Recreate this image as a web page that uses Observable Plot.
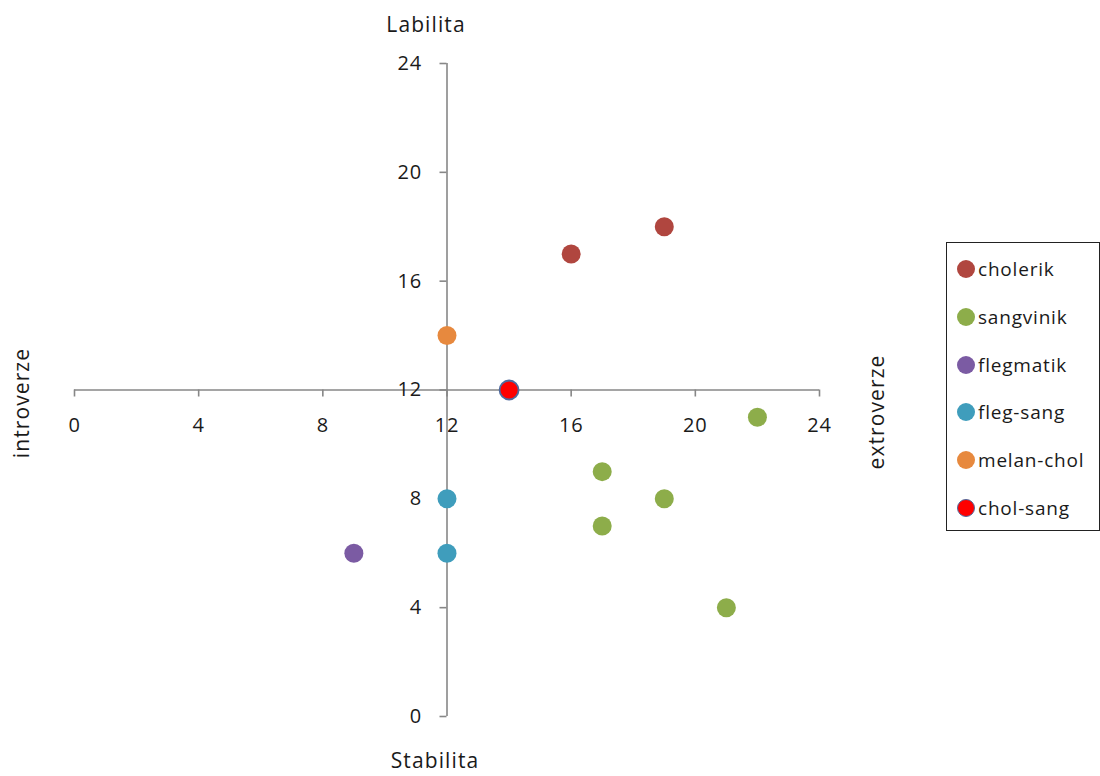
<!DOCTYPE html>
<html>
<head>
<meta charset="utf-8">
<script src="https://cdn.jsdelivr.net/npm/d3@7"></script>
<script src="https://cdn.jsdelivr.net/npm/@observablehq/plot@0.6"></script>
<style>
  body { margin: 0; background: #fff; font-family: "Open Sans", sans-serif; color: #1a1a1a; }
  #wrap { position: relative; width: 1100px; height: 776px; overflow: hidden; }
  #wrap svg { position: absolute; left: 0; top: 0; }
  .title, .vtitle { position: absolute; font-size: 21px; line-height: 1.2; letter-spacing: 1.1px; white-space: nowrap; }
  .title { transform: translate(-50%, -50%); }
  .vtitle { transform: translate(-50%, -50%) rotate(-90deg); }
  #legend { position: absolute; left: 946px; top: 242px; width: 152px; height: 287px; border: 1.3px solid #222; background: #fff; }
  #legend .item { position: absolute; left: 10px; height: 24px; display: flex; align-items: center; font-size: 19px; letter-spacing: 0.8px; transform: translateY(-50%); }
  #legend .sw { width: 18px; height: 18px; border-radius: 50%; margin-right: 3px; box-sizing: border-box; }
</style>
</head>
<body>
<div id="wrap"></div>
<script>
// Temperament groups and their colours
const groups = ["cholerik", "sangvinik", "flegmatik", "fleg-sang", "melan-chol", "chol-sang"];
const fills = ["#B0463F", "#8DAD4A", "#7B5BA3", "#3F9DBC", "#E7893E", "#FF0000"];
const strokes = ["none", "none", "none", "none", "none", "#4F6A9E"];

// Extraversion (x) and lability (y) scores per group
const cholerikX = [16, 19];
const cholerikY = [17, 18];
const sangvinikX = [22, 17, 19, 17, 21];
const sangvinikY = [11, 9, 8, 7, 4];
const flegmatikX = [9];
const flegmatikY = [6];
const flegSangX = [12, 12];
const flegSangY = [8, 6];
const melanCholX = [12];
const melanCholY = [14];
const cholSangX = [14];
const cholSangY = [12];

// Axis ticks
const xTicks = [0, 4, 8, 12, 16, 20, 24];
const yTicks = [0, 4, 8, 12, 16, 20, 24];
const axisCross = 12;

const seriesX = [cholerikX, sangvinikX, flegmatikX, flegSangX, melanCholX, cholSangX];
const seriesY = [cholerikY, sangvinikY, flegmatikY, flegSangY, melanCholY, cholSangY];
const points = groups.flatMap((g, i) =>
  seriesX[i].map((x, j) => ({group: g, x, y: seriesY[i][j], fill: fills[i], stroke: strokes[i]}))
);

const axisColor = "#878787";

const chart = Plot.plot({
  width: 1100,
  height: 776,
  marginLeft: 74,
  marginRight: 281,
  marginTop: 63,
  marginBottom: 60,
  x: {domain: [0, 24], axis: null},
  y: {domain: [0, 24], axis: null},
  style: {fontFamily: "'Open Sans', sans-serif", fontSize: "20px", color: "#1a1a1a", background: "transparent", letterSpacing: "0.8px"},
  marks: [
    // horizontal axis crossing at y = 12
    Plot.ruleY([axisCross], {x1: xTicks[0], x2: xTicks[xTicks.length - 1], stroke: axisColor, strokeWidth: 1.6}),
    Plot.ruleX(xTicks, {x: d => d, y1: axisCross, y2: axisCross, insetBottom: -7, stroke: axisColor, strokeWidth: 1.6}),
    Plot.text(xTicks, {x: d => d, y: axisCross, dy: 36, text: d => String(d), fill: "#1a1a1a"}),
    // vertical axis crossing at x = 12
    Plot.ruleX([axisCross], {y1: yTicks[0], y2: yTicks[yTicks.length - 1], stroke: axisColor, strokeWidth: 1.6}),
    Plot.ruleY(yTicks, {y: d => d, x1: axisCross, x2: axisCross, insetLeft: -7, stroke: axisColor, strokeWidth: 1.6}),
    Plot.text(yTicks, {x: axisCross, y: d => d, dx: -25, textAnchor: "end", text: d => String(d), fill: "#1a1a1a"}),
    // scores
    Plot.dot(points, {x: "x", y: "y", r: 9.5, fill: "fill", stroke: "stroke", strokeWidth: 1.8})
  ]
});

const wrap = document.getElementById("wrap");
wrap.appendChild(chart);

// Axis titles
const titles = [
  {text: "Labilita", left: 426, top: 25, cls: "title"},
  {text: "Stabilita", left: 435, top: 761, cls: "title"},
  {text: "introverze", left: 22, top: 403, cls: "vtitle"},
  {text: "extroverze", left: 877, top: 412, cls: "vtitle"}
];
for (const t of titles) {
  const d = document.createElement("div");
  d.className = t.cls;
  d.style.left = t.left + "px";
  d.style.top = t.top + "px";
  d.textContent = t.text;
  wrap.appendChild(d);
}

// Legend
const legend = document.createElement("div");
legend.id = "legend";
groups.forEach((g, i) => {
  const item = document.createElement("div");
  item.className = "item";
  item.style.top = (26 + i * 47.8) + "px";
  const sw = document.createElement("span");
  sw.className = "sw";
  sw.style.background = fills[i];
  if (strokes[i] !== "none") sw.style.border = "1.6px solid " + strokes[i];
  const lab = document.createElement("span");
  lab.textContent = g;
  item.appendChild(sw);
  item.appendChild(lab);
  legend.appendChild(item);
});
wrap.appendChild(legend);
</script>
</body>
</html>
